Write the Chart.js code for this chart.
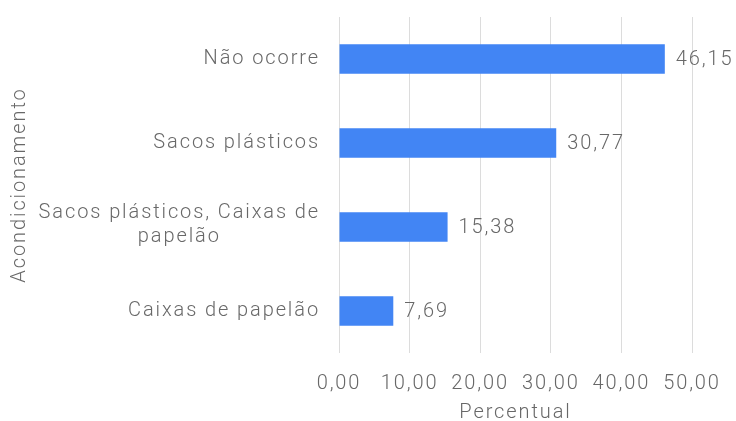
<!DOCTYPE html>
<html><head><meta charset="utf-8">
<script src="https://cdn.jsdelivr.net/npm/chart.js@4.4.1/dist/chart.umd.min.js"></script>
<style>html,body{margin:0;padding:0;background:#fff}#wrap{width:736px;height:421px}</style>
</head><body><div id="wrap"><canvas id="c" width="736" height="421"></canvas></div>
<script>
const categories = [["Não ocorre"], ["Sacos plásticos"], ["Sacos plásticos, Caixas de", "papelão"], ["Caixas de papelão"]];
const values = [46.15, 30.77, 15.38, 7.69];
const xTicks = [0, 10, 20, 30, 40, 50];
const xTitle = "Percentual";
const yTitle = "Acondicionamento";

const FONT = "Roboto, 'Liberation Sans', sans-serif";
const TXT = "#686868";
const FS = 20;
const LS = '1.9px';
const fmt = v => v.toFixed(2).replace('.', ',');

const spacingPlugin = {
  id: 'spacing',
  beforeLayout(chart) { chart.ctx.letterSpacing = LS; },
  beforeDraw(chart) { chart.ctx.letterSpacing = LS; }
};
const labelsPlugin = {
  id: 'labels',
  afterDatasetsDraw(chart) {
    const ctx = chart.ctx;
    const meta = chart.getDatasetMeta(0);
    const ys = chart.scales.y;
    ctx.save();
    ctx.letterSpacing = LS;
    ctx.fillStyle = TXT;
    ctx.font = "300 " + FS + "px " + FONT;
    ctx.textBaseline = 'middle';
    meta.data.forEach((bar, i) => {
      ctx.textAlign = 'left';
      ctx.fillText(fmt(values[i]), bar.x + 11, bar.y + 1);
      const lines = categories[i];
      const yc = ys.getPixelForValue(i);
      const lh = 24;
      const rightX = chart.chartArea.left - 19;
      if (lines.length === 1) {
        ctx.textAlign = 'right';
        ctx.fillText(lines[0], rightX, yc);
      } else {
        const w = Math.max(...lines.map(l => ctx.measureText(l).width));
        const cx = rightX - w / 2;
        ctx.textAlign = 'center';
        lines.forEach((l, k) => ctx.fillText(l, cx, yc + (k - (lines.length - 1) / 2) * lh - 2));
      }
    });
    ctx.restore();
  }
};

const tickFont = { family: FONT, size: FS, weight: 300 };

new Chart(document.getElementById('c'), {
  type: 'bar',
  data: {
    labels: categories,
    datasets: [{ data: values, backgroundColor: '#4285F4', barPercentage: 0.35, categoryPercentage: 1 }]
  },
  options: {
    indexAxis: 'y',
    responsive: false,
    animation: false,
    layout: { padding: { top: 17, right: 44, left: 0, bottom: 0 } },
    plugins: { legend: { display: false }, tooltip: { enabled: false } },
    scales: {
      x: {
        min: 0, max: 50,
        afterBuildTicks(s) { s.ticks = xTicks.map(v => ({ value: v })); },
        afterFit(s) { s.height = 68; s.paddingLeft = 0; s.paddingRight = 0; },
        grid: { color: '#dcdcdc', drawTicks: false, lineWidth: 1 },
        border: { display: false },
        ticks: { padding: 19, color: TXT, font: tickFont, callback: v => fmt(v), maxRotation: 0 },
        title: { display: true, text: xTitle, color: TXT, font: tickFont, padding: { top: 0, bottom: -4 } }
      },
      y: {
        afterFit(s) { s.width = 339; },
        grid: { display: false, drawTicks: false },
        border: { display: false },
        ticks: { display: false },
        title: { display: true, text: yTitle, color: TXT, font: tickFont, padding: { top: 8, bottom: 0 } }
      }
    }
  },
  plugins: [spacingPlugin, labelsPlugin]
});
</script></body></html>
